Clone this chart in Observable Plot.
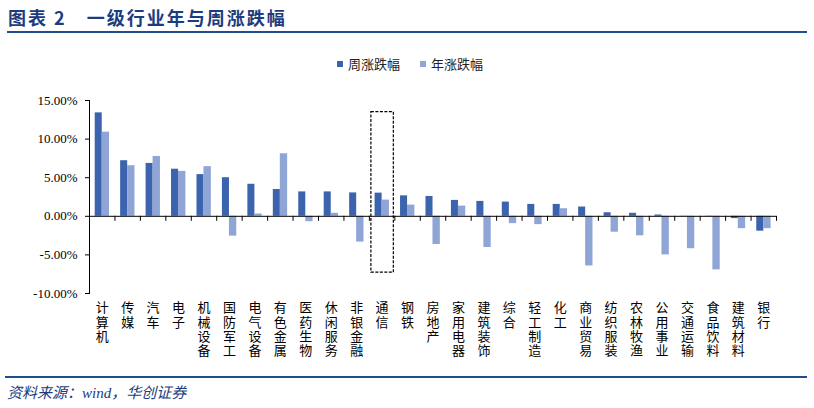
<!DOCTYPE html>
<html>
<head>
<meta charset="utf-8">
<script src="https://cdn.jsdelivr.net/npm/d3@7"></script>
<script src="https://cdn.jsdelivr.net/npm/@observablehq/plot@0.6"></script>
<style>
  html, body { margin: 0; padding: 0; background: #fff; }
  #page { position: relative; width: 814px; height: 408px; overflow: hidden; font-family: "Noto Sans CJK SC", sans-serif; }
  #title { position: absolute; left: 8px; top: 4px; font-size: 18px; font-weight: bold; color: #1b3c80; letter-spacing: 2px; white-space: pre; font-family: "Noto Sans CJK SC", sans-serif; }
  #topline { position: absolute; left: 7px; top: 31px; width: 800px; height: 2px; background: #1f4e8c; }
  #legend { position: absolute; left: 337px; top: 54px; display: flex; align-items: center; font-size: 13px; color: #222; }
  .sw { width: 6px; height: 6px; display: inline-block; margin-right: 5px; }
  .item { display: flex; align-items: center; margin-right: 20px; }
  #chart { position: absolute; left: 0; top: 80px; }
  #botline { position: absolute; left: 5px; top: 376px; width: 802px; height: 2px; background: #1f4e8c; }
  #source { position: absolute; left: 7px; top: 381px; font-size: 15px; font-style: italic; color: #1b3c80; font-family: "Liberation Serif", "Noto Sans CJK SC", serif; }
</style>
</head>
<body>
<div id="page">
  <div id="title">图表 2　一级行业年与周涨跌幅</div>
  <div id="topline"></div>
  <div id="legend"></div>
  <div id="chart"></div>
  <div id="botline"></div>
  <div id="source">资料来源：wind，华创证券</div>
</div>
<script>
const categories = ["计算机","传媒","汽车","电子","机械设备","国防军工","电气设备","有色金属","医药生物","休闲服务","非银金融","通信","钢铁","房地产","家用电器","建筑装饰","综合","轻工制造","化工","商业贸易","纺织服装","农林牧渔","公用事业","交通运输","食品饮料","建筑材料","银行"];
const weekChange = [13.4,7.2,6.85,6.1,5.4,5.0,4.15,3.47,3.16,3.16,3.03,3.0,2.65,2.57,2.06,1.93,1.84,1.54,1.54,1.2,0.46,0.39,0.17,0.02,-0.05,-0.3,-1.93];
const yearChange = [10.9,6.55,7.75,5.82,6.43,-2.57,0.3,8.1,-0.7,0.39,-3.34,2.1,1.45,-3.65,1.32,-4.04,-0.95,-1.08,0.98,-6.43,-2.06,-2.53,-5.0,-4.2,-6.94,-1.6,-1.6];
const seriesNames = ["周涨跌幅","年涨跌幅"];
const seriesColors = ["#3c64ae","#8fa5d6"];
const yTicks = [-10,-5,0,5,10,15];
const highlightCat = ["通信"];
const highlightLo = [-7.3];
const highlightHi = [13.5];

const data = categories.map((c,i) => ({cat: c, week: weekChange[i], year: yearChange[i]}));
const highlight = highlightCat.map((c,i) => ({cat: c, lo: highlightLo[i], hi: highlightHi[i]}));

const W = 814, H = 297, ML = 89, MR = 38, MT = 20, MB = 84;
const bw = (W - ML - MR) / categories.length;

const chart = Plot.plot({
  width: W, height: H,
  marginLeft: ML, marginRight: MR, marginTop: MT, marginBottom: MB,
  style: {fontFamily: "'Noto Sans CJK SC', sans-serif", color: "#000", background: "#fff"},
  x: {domain: categories, padding: 0, round: false},
  y: {domain: [-10, 15]},
  marks: [
    Plot.barY(data, {x: "cat", y: "week", fill: seriesColors[0], insetLeft: 5.7, insetRight: 12.7}),
    Plot.barY(data, {x: "cat", y: "year", fill: seriesColors[1], insetLeft: 12.7, insetRight: 5.4}),
    Plot.ruleY([0], {stroke: "#000", strokeWidth: 1}),
    Plot.ruleX(categories, {x: d => d, y1: 0, y2: -0.65, dx: bw / 2, stroke: "#000"}),
    Plot.frame({anchor: "left", stroke: "#000"}),
    Plot.axisY({ticks: yTicks, tickFormat: d => d.toFixed(2) + "%", tickSize: 4, tickPadding: 8, fontSize: 13, fontFamily: "'Liberation Serif', serif", label: null}),
    Plot.axisX({tickSize: 0, tickPadding: 9, tickFormat: d => d.split("").join("\n"), lineHeight: 1.08, fontSize: 13, label: null}),
    Plot.barY(highlight, {x: "cat", y1: "lo", y2: "hi", fill: "none", stroke: "#000", strokeWidth: 1.2, strokeDasharray: "3,1.5", insetLeft: 2, insetRight: 1})
  ]
});
document.getElementById("chart").appendChild(chart);

const legend = document.getElementById("legend");
seriesNames.forEach((n,i) => {
  const item = document.createElement("div");
  item.className = "item";
  item.innerHTML = `<span class="sw" style="background:${seriesColors[i]}"></span><span>${n}</span>`;
  legend.appendChild(item);
});
</script>
</body>
</html>
